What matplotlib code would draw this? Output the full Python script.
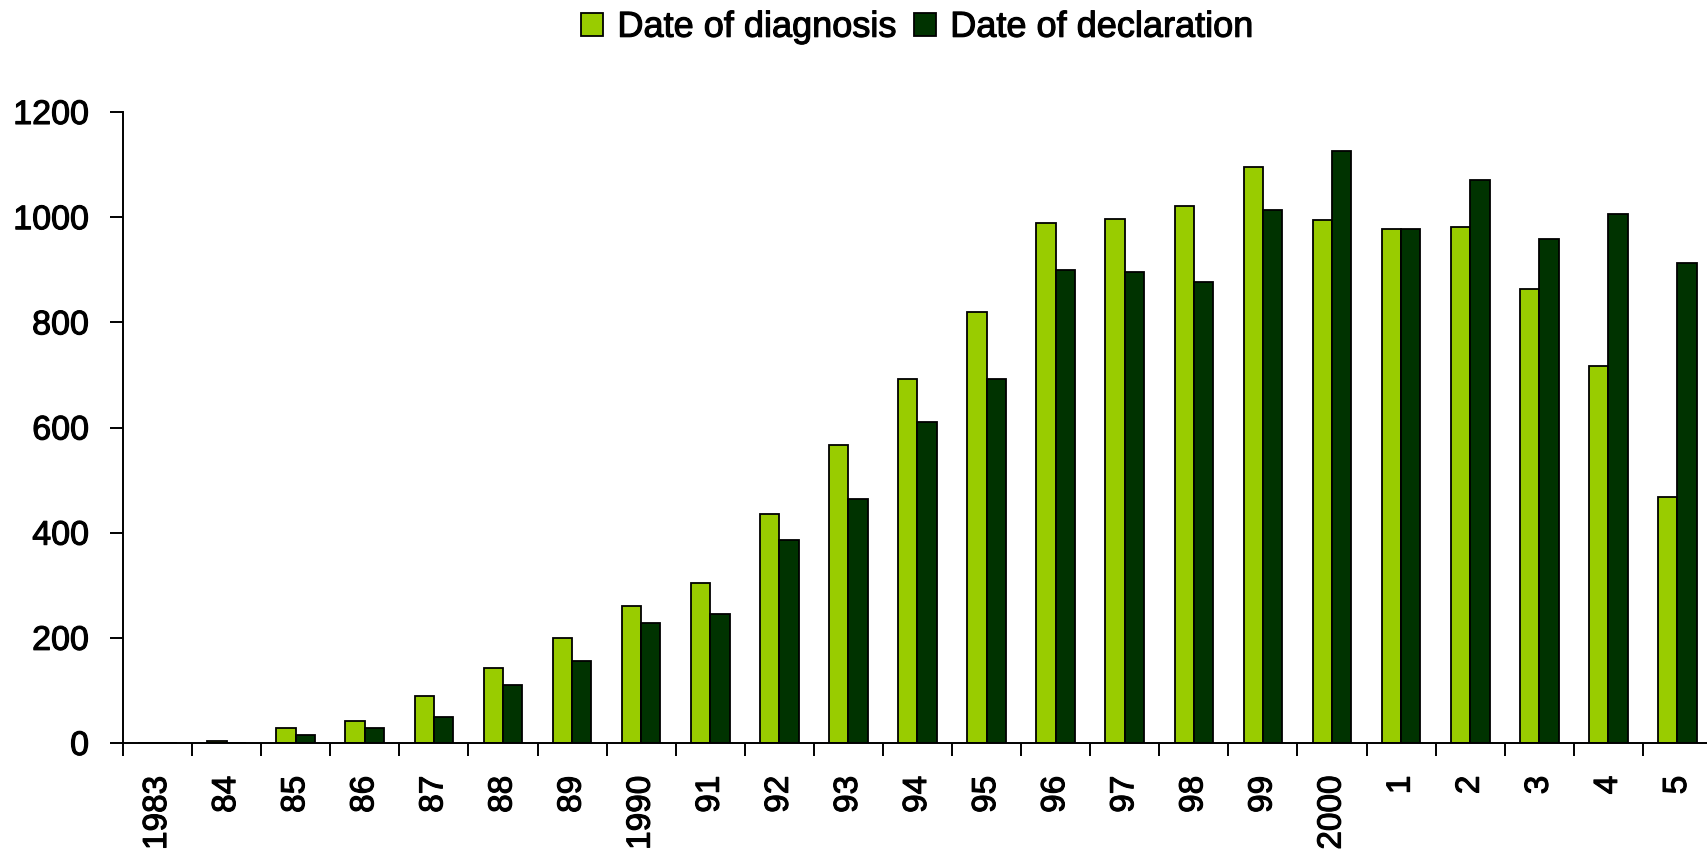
import numpy as np
import matplotlib
matplotlib.use("Agg")
import matplotlib.pyplot as plt
import matplotlib.patheffects as pe

plt.rcParams.update({"font.family": ["Liberation Sans", "DejaVu Sans"]})

years = ["1983", "84", "85", "86", "87", "88", "89", "1990", "91", "92", "93",
         "94", "95", "96", "97", "98", "99", "2000", "1", "2", "3", "4", "5"]
diagnosis = [0, 4, 28, 41, 90, 143, 199, 260, 305, 436, 566,
             693, 819, 989, 997, 1022, 1096, 994, 977, 982, 864, 717, 468]
declaration = [0, 0, 16, 29, 50, 111, 155, 228, 245, 387, 464,
               611, 693, 900, 896, 876, 1014, 1125, 977, 1071, 958, 1006, 913]
yticks = [0, 200, 400, 600, 800, 1000, 1200]

c_diag = "#99CC00"
c_decl = "#003300"
heavy = [pe.withStroke(linewidth=0.8, foreground="black")]  # a bit darker than regular

W, H = 1708, 852
fig = plt.figure(figsize=(W / 100, H / 100), dpi=100)
ax = fig.add_axes([123 / W, 109 / H, 1589 / W, 631 / H])

x = np.arange(len(years))
bw = 0.28
ax.bar(x - bw / 2, diagnosis, bw, color=c_diag, edgecolor="black", lw=1.3,
       label="Date of diagnosis")
ax.bar(x + bw / 2, declaration, bw, color=c_decl, edgecolor="black", lw=1.3,
       label="Date of declaration")

ax.set_xlim(-0.5, len(years) - 0.5)
ax.set_ylim(0, 1200)
ax.set_yticks(yticks)
ax.set_yticklabels([str(v) for v in yticks], fontsize=24.5)

ax.set_xticks(x)
ax.set_xticklabels(years, rotation=90, fontsize=24, va="top", ha="center")
ax.set_xticks(np.arange(len(years) + 1) - 0.5, minor=True)
ax.tick_params(axis="x", which="major", length=0, pad=23.5)
ax.tick_params(axis="x", which="minor", length=9.4, width=1.4, direction="out")
ax.tick_params(axis="y", length=9.4, width=1.4, direction="out", pad=15)

for s in ("top", "right"):
    ax.spines[s].set_visible(False)
for s in ("left", "bottom"):
    ax.spines[s].set_linewidth(1.4)

leg = fig.legend(loc="center", bbox_to_anchor=(0.537, 0.968), ncol=2, frameon=False,
                 fontsize=26, handlelength=0.6, handleheight=0.6,
                 handletextpad=0.4, columnspacing=0.5)

for t in ax.get_xticklabels() + ax.get_yticklabels() + leg.get_texts():
    t.set_path_effects(heavy)

fig.savefig("out.png", dpi=100, facecolor="white")
